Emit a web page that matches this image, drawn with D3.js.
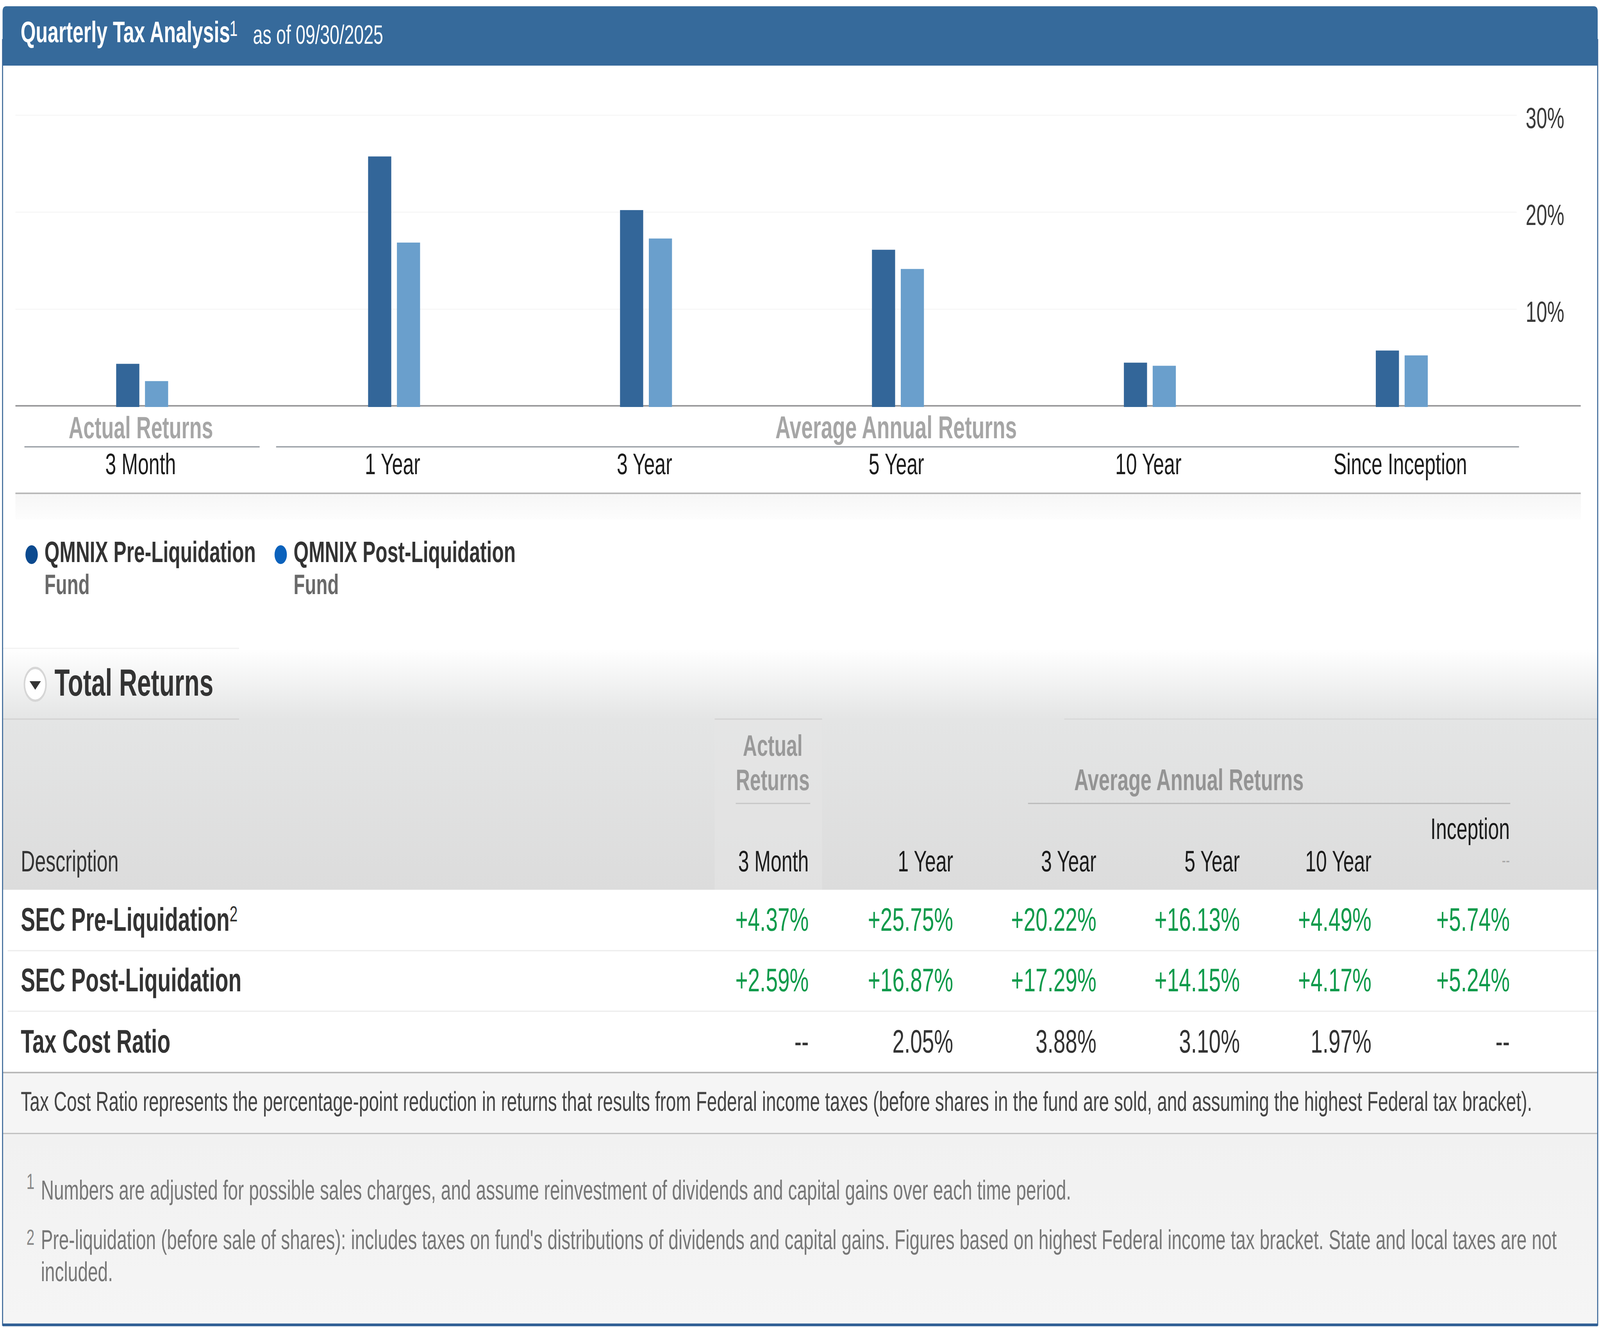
<!DOCTYPE html>
<html>
<head>
<meta charset="utf-8">
<title>Quarterly Tax Analysis</title>
<script src="https://cdn.jsdelivr.net/npm/d3@7"></script>
<style>
  html, body { margin: 0; padding: 0; background: #fff; width: 100%; height: 100%; overflow: hidden; }
  #chart, svg { display: block; width: 100vw; height: 100vh; }
  text { font-family: "Liberation Sans", Arial, sans-serif; text-rendering: geometricPrecision; }
</style>
</head>
<body>
<div id="chart"></div>
<script>
(function () {
  'use strict';

  var periods = ['3 Month', '1 Year', '3 Year', '5 Year', '10 Year', 'Since Inception'];
  var seriesNames = ['QMNIX Pre-Liquidation', 'QMNIX Post-Liquidation'];
  var preLiquidation = [4.37, 25.75, 20.22, 16.13, 4.49, 5.74];
  var postLiquidation = [2.59, 16.87, 17.29, 14.15, 4.17, 5.24];
  var taxCostRatio = [null, 2.05, 3.88, 3.10, 1.97, null];
  var yTicks = [10, 20, 30];
  var tableColumns = ['3 Month', '1 Year', '3 Year', '5 Year', '10 Year', 'Inception'];
  var rowLabels = ['SEC Pre-Liquidation', 'SEC Post-Liquidation', 'Tax Cost Ratio'];

  var W = 6224, H = 3400;
  var colors = { pre: '#336699', post: '#6a9fcc', head: '#366a9b', edge: '#3a6798' };

  // the drawing is laid out at 6224x3400 and fills whatever window it gets
  var svg = d3.select('#chart').append('svg')
    .attr('viewBox', '0 0 ' + W + ' ' + H)
    .attr('preserveAspectRatio', 'none');

  var defs = svg.append('defs');
  function gradient(id, stops) {
    var g = defs.append('linearGradient').attr('id', id)
      .attr('x1', 0).attr('y1', 0).attr('x2', 0).attr('y2', 1);
    stops.forEach(function (s) {
      g.append('stop').attr('offset', s[0]).attr('stop-color', s[1]);
    });
  }
  gradient('fadeTop', [[0, '#ffffff'], [1, '#e4e5e5']]);
  gradient('tableHead', [[0, '#e4e5e5'], [1, '#dcdcdc']]);
  gradient('chartFoot', [[0, '#f6f6f6'], [1, '#fdfdfd']]);
  gradient('noteBg', [[0, '#f1f1f1'], [1, '#f5f5f5']]);

  function rect(x, y, w, h, fill) {
    return svg.append('rect').attr('x', x).attr('y', y)
      .attr('width', w).attr('height', h).attr('fill', fill);
  }
  function hline(x1, x2, y, color, width) {
    return svg.append('line').attr('x1', x1).attr('x2', x2)
      .attr('y1', y).attr('y2', y)
      .attr('stroke', color).attr('stroke-width', width || 3);
  }
  function label(parent, x, y, str, size, color, weight, anchor) {
    return parent.append('text').attr('x', x).attr('y', y).text(str)
      .attr('font-size', size).attr('fill', color)
      .attr('font-weight', weight || 'normal')
      .attr('text-anchor', anchor || 'start');
  }

  // page panels
  rect(0, 0, W, H, '#ffffff');
  rect(10, 1660, 6204, 181, 'url(#fadeTop)');
  rect(10, 1841, 6204, 437, 'url(#tableHead)');
  rect(2780, 1841, 418, 437, '#e6e6e6').attr('opacity', 0.55);
  rect(10, 2746, 6204, 156, '#f5f5f5');
  rect(10, 2902, 6204, 488, 'url(#noteBg)');
  rect(60, 1263, 6090, 67, 'url(#chartFoot)');

  // title bar
  svg.append('path')
    .attr('d', 'M10 30 Q10 16 24 16 H6200 Q6215 16 6215 30 V168 H10 Z')
    .attr('fill', colors.head);
  label(svg, 80, 108, 'Quarterly Tax Analysis', 76, '#ffffff', 'bold');
  label(svg, 893, 92, '1', 56, '#ffffff');
  label(svg, 984, 112, 'as of 09/30/2025', 68, '#ffffff');

  // chart
  var x = d3.scaleBand().domain(periods).range([63, 5943]);
  var xSeries = d3.scaleBand().domain(seriesNames)
    .range([0, x.bandwidth()]).paddingInner(0.196).paddingOuter(3.47);
  var y = d3.scaleLinear().domain([0, 30]).range([1040, 295]);

  svg.append('g').selectAll('line')
    .data(yTicks).enter().append('line')
    .attr('x1', 60).attr('x2', 5900)
    .attr('y1', function (d) { return y(d); })
    .attr('y2', function (d) { return y(d); })
    .attr('stroke', '#f7f7f7').attr('stroke-width', 3);

  var yAxis = d3.axisRight(y).tickValues(yTicks).tickSize(0).tickPadding(0)
    .tickFormat(function (d) { return d + '%'; });
  var yAxisG = svg.append('g').attr('transform', 'translate(5935,8)').call(yAxis);
  yAxisG.select('.domain').remove();
  yAxisG.selectAll('text')
    .attr('font-size', 75).attr('fill', '#3a3a3a')
    .style('font-family', '"Liberation Sans", Arial, sans-serif');

  hline(60, 6149, 1039, '#9a9a9c', 4);

  [preLiquidation, postLiquidation].forEach(function (values, s) {
    svg.append('g').selectAll('rect')
      .data(values).enter().append('rect')
      .attr('x', function (d, i) { return x(periods[i]) + xSeries(seriesNames[s]); })
      .attr('y', function (d) { return y(d); })
      .attr('width', xSeries.bandwidth())
      .attr('height', function (d) { return 1042 - y(d); })
      .attr('fill', s === 0 ? colors.pre : colors.post);
  });

  // group captions under the bars
  label(svg, 548, 1122, 'Actual Returns', 79, '#a6a6a6', 'bold', 'middle');
  label(svg, 3486, 1122, 'Average Annual Returns', 81, '#a6a6a6', 'bold', 'middle');
  hline(95, 1010, 1144, '#8f959c', 3);
  hline(1074, 5909, 1144, '#8f959c', 3);

  var xAxis = d3.axisBottom(x).tickSize(0).tickPadding(0);
  var xAxisG = svg.append('g').attr('transform', 'translate(-6,1160)').call(xAxis);
  xAxisG.select('.domain').remove();
  xAxisG.selectAll('text')
    .attr('font-size', 76).attr('fill', '#1c1c1c')
    .style('font-family', '"Liberation Sans", Arial, sans-serif');
  hline(60, 6149, 1263, '#b9b9b9', 4);

  // legend
  var legendX = d3.scaleOrdinal().domain(seriesNames).range([123, 1092]);
  var legendFill = d3.scaleOrdinal().domain(seriesNames).range(['#0b4a8f', '#0b62bc']);
  seriesNames.forEach(function (name) {
    var lx = legendX(name);
    svg.append('circle').attr('cx', lx).attr('cy', 1420).attr('r', 24)
      .attr('fill', legendFill(name));
    label(svg, lx + 50, 1439, name, 75.5, '#333333', 'bold');
    label(svg, lx + 50, 1521, 'Fund', 72, '#6a6a6a', 'bold');
  });

  // total returns heading
  hline(10, 930, 1660, '#f2f2f2', 3);
  svg.append('circle').attr('cx', 137).attr('cy', 1752).attr('r', 42)
    .attr('fill', '#ffffff').attr('stroke', '#d6d6d6').attr('stroke-width', 6);
  svg.append('path').attr('d', 'M115 1744 H159 L137 1766 Z').attr('fill', '#333333');
  label(svg, 212, 1781, 'Total Returns', 97, '#333333', 'bold');

  // table header
  hline(10, 930, 1841, '#d2d2d2', 3);
  hline(2780, 3198, 1841, '#d2d2d2', 3);
  hline(4140, 6214, 1841, '#d8d8d8', 3);
  label(svg, 3006, 1935, 'Actual', 76, '#999999', 'bold', 'middle');
  label(svg, 3006, 2023, 'Returns', 76, '#999999', 'bold', 'middle');
  hline(2862, 3152, 2057, '#c6c6c6', 3);
  label(svg, 4625, 2023, 'Average Annual Returns', 77, '#949494', 'bold', 'middle');
  hline(3999, 5875, 2057, '#b9b9b9', 3);

  var colRight = d3.scaleOrdinal().domain(tableColumns)
    .range([3146, 3708, 4265, 4823, 5335, 5873]);

  label(svg, 81, 2231, 'Description', 76, '#333333');
  tableColumns.forEach(function (c) {
    var top = c === 'Inception';
    label(svg, colRight(c), top ? 2148 : 2231, c, 76, '#1c1c1c', 'normal', 'end');
  });
  label(svg, colRight('Inception'), 2218, '--', 46, '#a8a8a8', 'normal', 'end');

  // table body
  rect(10, 2278, 6204, 468, '#ffffff');
  var rowY = d3.scaleOrdinal().domain(rowLabels).range([2383, 2538, 2695]);
  var sups = { 'SEC Pre-Liquidation': '2' };
  rowLabels.forEach(function (r) {
    var t = label(svg, 81, rowY(r), r, 84, '#333333', 'bold');
    if (sups[r]) {
      t.append('tspan').attr('dy', -24).attr('font-size', 56)
        .attr('font-weight', 'normal').text(sups[r]);
    }
  });
  function signed(v) { return '+' + v.toFixed(2) + '%'; }
  var valueRows = [preLiquidation, postLiquidation];
  valueRows.forEach(function (values, r) {
    svg.append('g').selectAll('text')
      .data(values).enter().append('text')
      .attr('x', function (d, i) { return colRight(tableColumns[i]); })
      .attr('y', rowY(rowLabels[r]))
      .attr('text-anchor', 'end').attr('font-size', 83.5)
      .attr('fill', '#0e9a4b')
      .text(signed);
  });
  svg.append('g').selectAll('text')
    .data(taxCostRatio).enter().append('text')
    .attr('x', function (d, i) { return colRight(tableColumns[i]); })
    .attr('y', rowY(rowLabels[2]))
    .attr('text-anchor', 'end').attr('font-size', 83.5)
    .attr('fill', '#333333')
    .text(function (d) { return d === null ? '--' : d.toFixed(2) + '%'; });

  hline(30, 6214, 2434, '#ececec', 3);
  hline(30, 6214, 2589, '#ececec', 3);
  hline(10, 6214, 2746, '#b9b9b9', 4);
  hline(10, 6214, 2902, '#bdbdbd', 3);

  // notes
  label(svg, 81, 2844, 'Tax Cost Ratio represents the percentage-point reduction in returns that results from Federal income taxes (before shares in the fund are sold, and assuming the highest Federal tax bracket).', 70, '#444444');
  label(svg, 103, 3044, '1', 56, '#888888');
  label(svg, 159, 3071, 'Numbers are adjusted for possible sales charges, and assume reinvestment of dividends and capital gains over each time period.', 70, '#777777');
  label(svg, 103, 3187, '2', 56, '#888888');
  label(svg, 159, 3198, 'Pre-liquidation (before sale of shares): includes taxes on fund\'s distributions of dividends and capital gains. Figures based on highest Federal income tax bracket. State and local taxes are not', 70, '#777777');
  label(svg, 159, 3280, 'included.', 70, '#777777');

  // outer frame
  svg.append('path')
    .attr('d', 'M10 100 V3392 H6215 V100')
    .attr('fill', 'none').attr('stroke', colors.edge).attr('stroke-width', 4);
  hline(10, 6215, 3392, '#2f5f95', 7);
})();
</script>
</body>
</html>
